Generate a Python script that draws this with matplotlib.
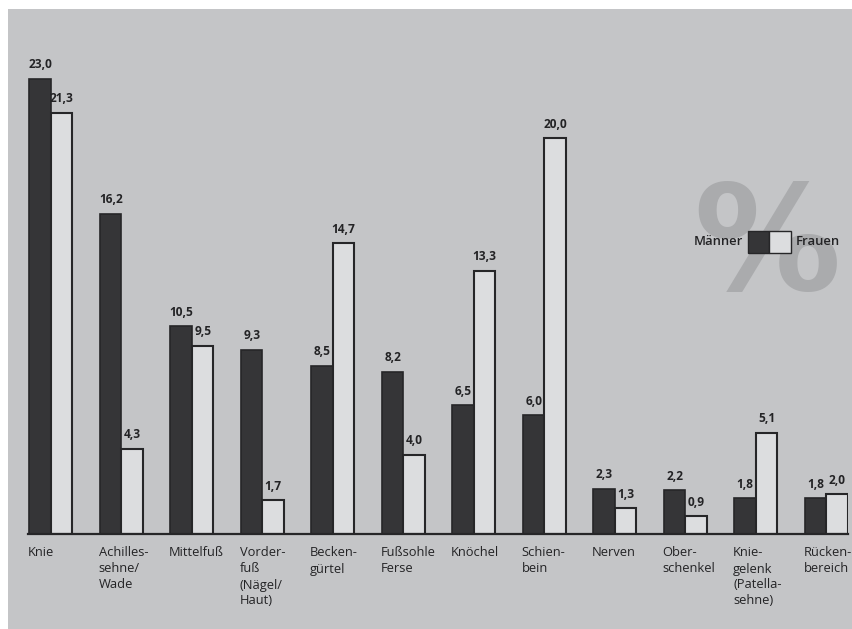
import matplotlib
matplotlib.use("Agg")
import matplotlib.pyplot as plt
import numpy as np
from matplotlib.patches import Rectangle

# Verletzungsorte, Anteile in Prozent
categories = ["Knie", "Achilles-\nsehne/\nWade", "Mittelfuß", "Vorder-\nfuß\n(Nägel/\nHaut)",
              "Becken-\ngürtel", "Fußsohle\nFerse", "Knöchel", "Schien-\nbein", "Nerven",
              "Ober-\nschenkel", "Knie-\ngelenk\n(Patella-\nsehne)", "Rücken-\nbereich"]
maenner = [23.0, 16.2, 10.5, 9.3, 8.5, 8.2, 6.5, 6.0, 2.3, 2.2, 1.8, 1.8]
frauen = [21.3, 4.3, 9.5, 1.7, 14.7, 4.0, 13.3, 20.0, 1.3, 0.9, 5.1, 2.0]
legend_labels = ["Männer", "Frauen"]

W, H = 853, 629
BG = "#c4c5c7"
DARK = "#353537"
LIGHT = "#dcdddf"
EDGE = "#262628"
TXT = "#232325"
FONT = ["Open Sans", "DejaVu Sans"]

fig = plt.figure(figsize=(W / 100, H / 100), dpi=100)
fig.patch.set_facecolor(BG)

# white page edge along top and left
fig.add_artist(Rectangle((0, 1 - 9 / H), 1, 9 / H, transform=fig.transFigure,
                         facecolor="white", edgecolor="none", zorder=0))
fig.add_artist(Rectangle((0, 0), 8 / W, 1, transform=fig.transFigure,
                         facecolor="white", edgecolor="none", zorder=0))

# big percent sign behind the legend
fig.text(767 / W, 1 - 249 / H, "%", fontsize=106, fontweight="bold",
         family="DejaVu Sans", color="#aaabad", ha="center", va="center", zorder=0.5)

ax = fig.add_axes([28 / W, 1 - 534 / H, 820 / W, 474.7 / H])
ax.set_facecolor("none")
x = np.arange(len(categories))
bw = 0.305
ax.bar(x - bw / 2, maenner, bw, color=DARK, edgecolor=EDGE, linewidth=1.2, zorder=2)
ax.bar(x + bw / 2, frauen, bw, color=LIGHT, edgecolor=EDGE, linewidth=1.5, zorder=2)

ax.set_xlim(-0.326, 11.305)
ax.set_ylim(0, 24)
for s in ["top", "right", "left"]:
    ax.spines[s].set_visible(False)
ax.spines["bottom"].set_linewidth(1.6)
ax.spines["bottom"].set_color(EDGE)
ax.set_yticks([])
ax.set_xticks([])

def fmt(v):
    return f"{v:.1f}".replace(".", ",")

for xi, m, f in zip(x, maenner, frauen):
    ax.annotate(fmt(m), (xi - bw / 2, m), xytext=(0, 5.5), textcoords="offset points",
                ha="center", va="bottom", fontsize=8.6, fontweight="bold",
                family=FONT, color=TXT)
    ax.annotate(fmt(f), (xi + bw / 2, f), xytext=(0, 5.5), textcoords="offset points",
                ha="center", va="bottom", fontsize=8.6, fontweight="bold",
                family=FONT, color=TXT)
    ax.annotate(categories[xi], (xi - bw, 0), xytext=(-1, -9), textcoords="offset points",
                ha="left", va="top", fontsize=9.3, family=FONT, color=TXT,
                linespacing=1.3)

# legend: label, dark box, light box, label
fig.add_artist(Rectangle((748 / W, 1 - 253 / H), 21 / W, 22 / H, transform=fig.transFigure,
                         facecolor=DARK, edgecolor=EDGE, linewidth=1.0, zorder=3))
fig.add_artist(Rectangle((769 / W, 1 - 253 / H), 22 / W, 22 / H, transform=fig.transFigure,
                         facecolor=LIGHT, edgecolor=EDGE, linewidth=1.0, zorder=3))
fig.text(743 / W, 1 - 242 / H, legend_labels[0], ha="right", va="center", fontsize=9.4,
         fontweight="semibold", family=FONT, color=TXT)
fig.text(796 / W, 1 - 242 / H, legend_labels[1], ha="left", va="center", fontsize=9.4,
         fontweight="semibold", family=FONT, color=TXT)

fig.savefig("out.png", dpi=100, facecolor=BG)
